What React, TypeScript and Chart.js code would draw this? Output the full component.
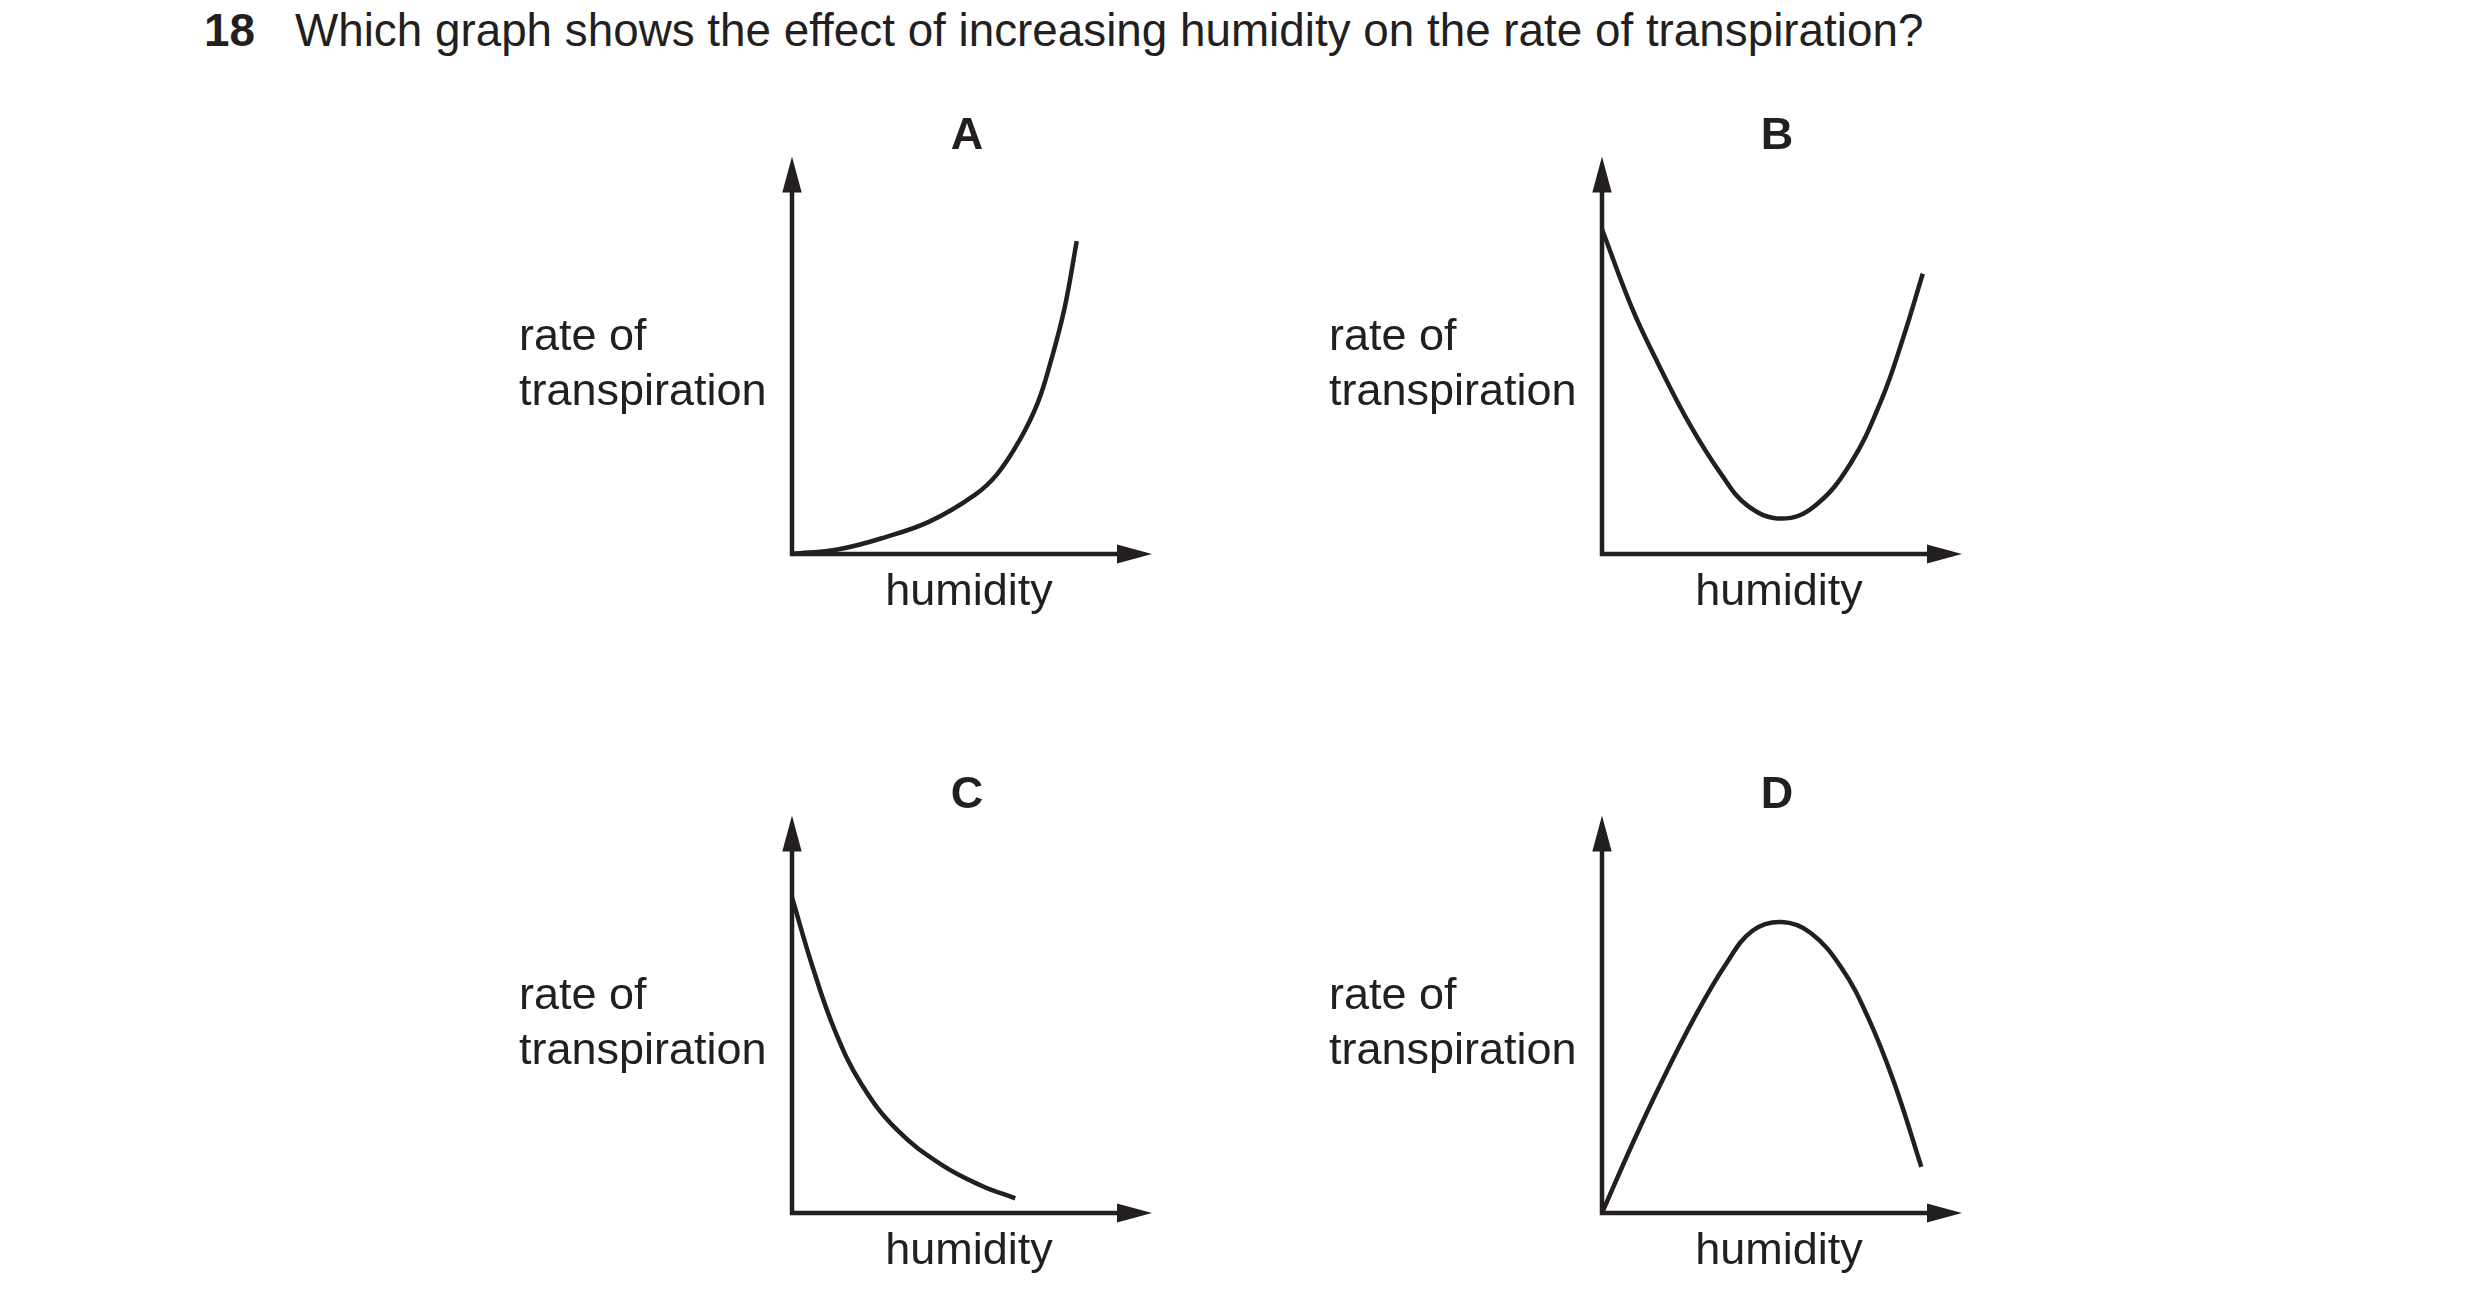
import React, { useEffect, useRef } from 'react';
import { Chart, registerables } from 'chart.js';

Chart.register(...registerables);

const INK = '#231f20';
const FONT = '"Liberation Sans", Arial, Helvetica, sans-serif';

const questionNumber = '18';
const questionText = 'Which graph shows the effect of increasing humidity on the rate of transpiration?';
const yAxisLines = ['rate of', 'transpiration'];
const xAxisLabel = 'humidity';
const panelLetters = ['A', 'B', 'C', 'D'];

const humidityA = [0, 1.3, 2.58, 3.83, 5.07, 5.7, 6.32, 6.82, 7.19, 7.57, 7.91];
const rateA = [0, 0.12, 0.42, 0.82, 1.48, 2.01, 2.86, 3.79, 4.85, 6.18, 7.87];

const humidityB = [0, 0.84, 1.58, 2.45, 3.31, 4.05, 4.99, 5.91, 6.9, 7.76, 8.37, 8.91];
const rateB = [8.17, 6.17, 4.75, 3.24, 2.01, 1.21, 0.89, 1.21, 2.27, 3.87, 5.45, 7.05];

const humidityC = [0, 0.58, 1.2, 1.93, 2.92, 4.16, 5.28, 6.2];
const rateC = [7.94, 6.17, 4.57, 3.24, 2.09, 1.21, 0.68, 0.37];

const humidityD = [0, 0.84, 1.58, 2.57, 3.44, 4.18, 4.99, 5.79, 6.65, 7.39, 8.13, 8.87];
const rateD = [0, 1.73, 3.16, 4.92, 6.26, 7.1, 7.32, 7.05, 6.17, 4.92, 3.24, 1.16];

const AXIS_MAX = 10;

const sketchPlugin = (letter: string) => ({
    id: 'sketchAxes',
    beforeDatasetsDraw(chart: any) {
        const { ctx, scales: { x, y } } = chart;
        const x0 = x.getPixelForValue(0);
        const y0 = y.getPixelForValue(0);
        const xEnd = x.getPixelForValue(AXIS_MAX);
        const yEnd = y.getPixelForValue(AXIS_MAX);

        ctx.save();
        ctx.strokeStyle = INK;
        ctx.fillStyle = INK;
        ctx.lineWidth = 4.5;
        ctx.lineCap = 'butt';

        // axis lines
        ctx.beginPath();
        ctx.moveTo(x0 - 2.25, y0);
        ctx.lineTo(xEnd - 30, y0);
        ctx.moveTo(x0, y0 + 2.25);
        ctx.lineTo(x0, yEnd + 30);
        ctx.stroke();

        // arrow heads
        ctx.beginPath();
        ctx.moveTo(xEnd, y0);
        ctx.lineTo(xEnd - 35, y0 - 9.5);
        ctx.lineTo(xEnd - 35, y0 + 9.5);
        ctx.closePath();
        ctx.moveTo(x0, yEnd);
        ctx.lineTo(x0 - 9.7, yEnd + 36);
        ctx.lineTo(x0 + 9.7, yEnd + 36);
        ctx.closePath();
        ctx.fill();

        // panel letter and axis labels
        ctx.textBaseline = 'alphabetic';
        ctx.font = `bold 45px ${FONT}`;
        ctx.textAlign = 'center';
        ctx.fillText(letter, x0 + 175, yEnd - 8);
        ctx.font = `45px ${FONT}`;
        ctx.fillText(xAxisLabel, x0 + 177, y0 + 51);
        ctx.textAlign = 'left';
        ctx.fillText(yAxisLines[0], x0 - 273, y0 - 204.5);
        ctx.fillText(yAxisLines[1], x0 - 273, y0 - 149.5);
        ctx.restore();
    },
});

type PanelProps = {
    letter: string;
    xs: number[];
    ys: number[];
    originX: number;
    originY: number;
};

const Panel: React.FC<PanelProps> = ({ letter, xs, ys, originX, originY }) => {
    const canvasRef = useRef<HTMLCanvasElement>(null);

    useEffect(() => {
        const canvas = canvasRef.current;
        if (!canvas) return;

        const hidden = {
            grid: { display: false, drawTicks: false },
            border: { display: false },
            ticks: { display: false },
        };

        const chart = new Chart(canvas, {
            type: 'scatter',
            data: {
                datasets: [
                    {
                        data: xs.map((x, i) => ({ x, y: ys[i] })),
                        showLine: true,
                        borderColor: INK,
                        borderWidth: 4.5,
                        pointRadius: 0,
                        tension: 0.4,
                        fill: false,
                        clip: false,
                    } as any,
                ],
            },
            options: {
                animation: false,
                responsive: false,
                events: [],
                layout: {
                    padding: { left: 300, right: 40, top: 62.5, bottom: 100 },
                    autoPadding: false,
                },
                plugins: {
                    legend: { display: false },
                    tooltip: { enabled: false },
                },
                scales: {
                    x: { type: 'linear', min: 0, max: AXIS_MAX, ...hidden },
                    y: { type: 'linear', min: 0, max: AXIS_MAX, ...hidden },
                },
            },
            plugins: [sketchPlugin(letter)],
        });

        return () => {
            chart.destroy();
        };
    }, []);

    return (
        <canvas
            ref={canvasRef}
            width={700}
            height={560}
            style={{ position: 'absolute', left: originX - 300, top: originY - 460, width: 700, height: 560 }}
        />
    );
};

const App: React.FC = () => {
    return (
        <div style={{ position: 'absolute', left: 0, top: 0, width: 2480, height: 1314, background: '#fff', overflow: 'hidden' }}>
            <div style={{ position: 'absolute', left: 204, top: 4, font: `bold 45.8px/54px ${FONT}`, color: INK, whiteSpace: 'nowrap' }}>
                {questionNumber}
            </div>
            <div style={{ position: 'absolute', left: 295, top: 4, font: `45.8px/54px ${FONT}`, color: INK, whiteSpace: 'nowrap' }}>
                {questionText}
            </div>
            <Panel letter={panelLetters[0]} xs={humidityA} ys={rateA} originX={792} originY={553.5} />
            <Panel letter={panelLetters[1]} xs={humidityB} ys={rateB} originX={1602} originY={553.5} />
            <Panel letter={panelLetters[2]} xs={humidityC} ys={rateC} originX={792} originY={1213} />
            <Panel letter={panelLetters[3]} xs={humidityD} ys={rateD} originX={1602} originY={1213} />
        </div>
    );
};

export default App;
